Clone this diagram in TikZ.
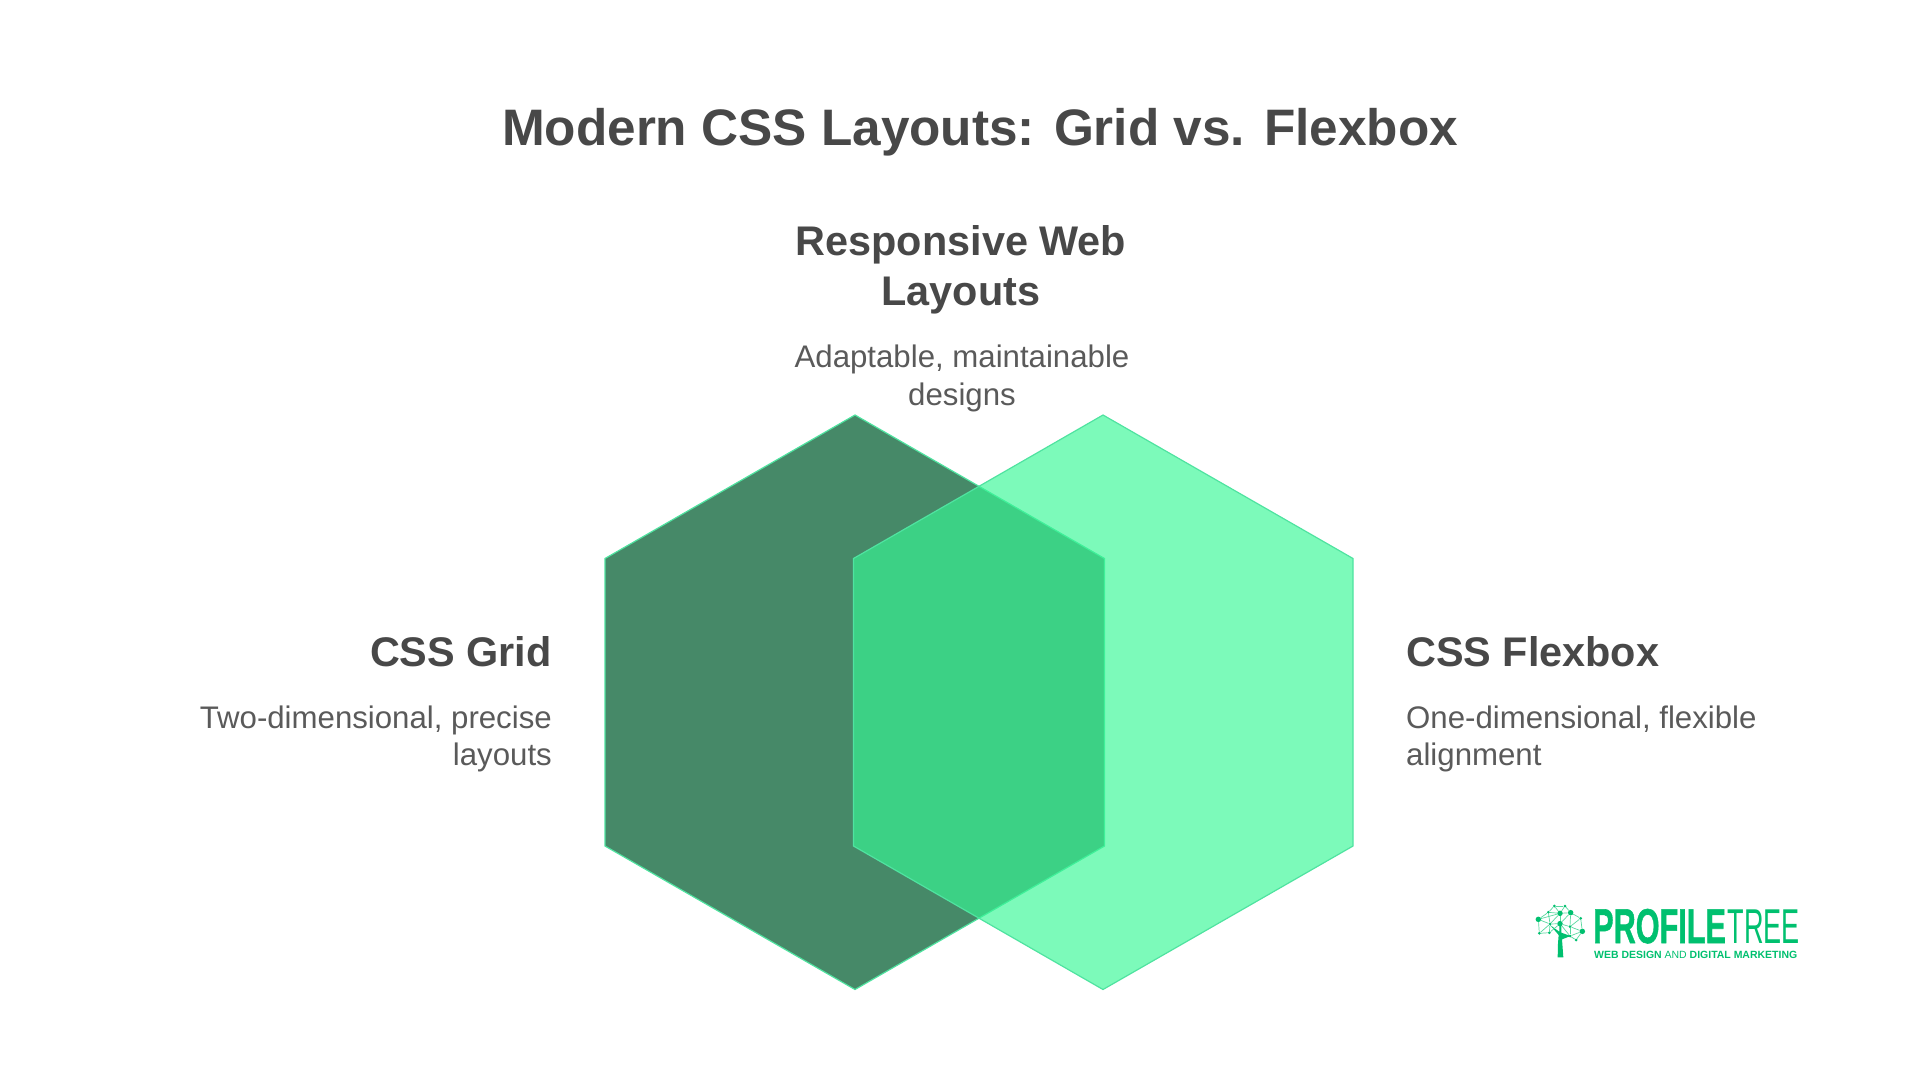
\documentclass[tikz,border=0pt]{standalone}
\usepackage{fontspec}
\setmainfont{Liberation Sans}
\newfontfamily\logoblack[FakeBold=1.2]{Liberation Sans Bold}
\definecolor{txtdark}{HTML}{484848}
\definecolor{txtbody}{HTML}{5A5A5A}
\definecolor{hexedge}{HTML}{4FE3A0}
\definecolor{hexdarkfill}{RGB}{70,137,104}
\definecolor{hexlightfill}{RGB}{55,248,150}
\definecolor{logogreen}{HTML}{00C06F}
\definecolor{logomesh}{HTML}{5AD9A0}
\tikzset{
  hexdark/.style={draw=hexedge,line width=1.2pt,fill=hexdarkfill},
  hexlight/.style={draw=hexedge,line width=1.2pt,fill=hexlightfill,fill opacity=.65},
  titletext/.style={font=\bfseries\fontsize{51.3}{60}\selectfont,text=txtdark,inner sep=0pt},
  headtext/.style={font=\bfseries\fontsize{41.4}{50}\selectfont,text=txtdark,inner sep=0pt,align=center},
  bodytext/.style={font=\fontsize{31.2}{38}\selectfont,text=txtbody,inner sep=0pt},
  lognode/.style={circle,fill=logogreen,inner sep=0pt,minimum size=3pt},
  logbig/.style={circle,fill=logogreen,inner sep=0pt,minimum size=5.5pt},
  logtext/.style={inner sep=0pt,text=logogreen},
  meshline/.style={draw=logomesh,line width=.7pt},
}
\begin{document}
\begin{tikzpicture}[x=1pt,y=-1pt]
\useasboundingbox (0,0) rectangle (1920,1080);
\fill[white] (0,0) rectangle (1920,1080);
\draw[hexdark] (855,415)--(1104.5,558.5)--(1104.5,846)--(855,989.5)--(605,846)--(605,558.5)--cycle;
\draw[hexlight] (1103,415)--(1353,558.5)--(1353,846)--(1103,989.5)--(853.5,846)--(853.5,558.5)--cycle;
\node[titletext,anchor=base] (title) at (980,145) {Modern CSS Layouts: Grid vs. Flexbox};
\node[headtext,anchor=base] (rw1) at (961,255.7) {Responsive Web};
\node[headtext,anchor=base] (rw2) at (961,305) {Layouts};
\node[bodytext,anchor=base] (rb1) at (962,367.7) {Adaptable, maintainable};
\node[bodytext,anchor=base] (rb2) at (962,405.5) {designs};
\node[headtext,anchor=base east] (g1) at (552,666) {CSS Grid};
\node[bodytext,anchor=base east] (gb1) at (552,728) {Two-dimensional, precise};
\node[bodytext,anchor=base east] (gb2) at (552,765.5) {layouts};
\node[headtext,anchor=base west] (f1) at (1406,666) {CSS Flexbox};
\node[bodytext,anchor=base west] (fb1) at (1406,728) {One-dimensional, flexible};
\node[bodytext,anchor=base west] (fb2) at (1406,765.5) {alignment};
% logo
\begin{scope}[shift={(1500,880)},x=.3333pt,y=-.3333pt]
\fill[logogreen] (173,232)--(174,190)--(176,165)--(150,135)--(178,155)--(178,131)--(184,131)--(184,158)--(212,168)--(186,178)--(190,232)--cycle;
\foreach \nm/\px/\py in {a/145/97,b/163/78,c/195/78,d/242/115,e/150/132,f/118/160,g/148/158,h/210/140,i/228/180,j/210/168}
  \node[lognode] (\nm) at (\px,\py) {};
\foreach \nm/\px/\py in {A/115/118,B/180/100,C/212/98,D/180/131,E/247/154}
  \node[logbig] (\nm) at (\px,\py) {};
\foreach \u/\v in {A/a,a/b,b/c,c/C,C/d,d/E,E/i,i/j,A/e,A/f,f/e,f/g,e/g,a/e,a/B,b/B,c/B,B/C,B/D,C/D,B/e,e/D,C/h,d/h,h/D,h/E,h/j,j/E,j/D,g/D,A/B}
  \draw[meshline] (\u) -- (\v);
\end{scope}
\node[logtext,anchor=base west] (ptb) at (1593,943) {\scalebox{.645}[1.03]{\logoblack\fontsize{47.5}{48}\selectfont PROFILE}};
\node[logtext,anchor=base west] (ptr) at (1727.5,943) {\scalebox{.57}[1.03]{\fontsize{47.5}{48}\selectfont TREE}};
\node[logtext,anchor=base west] (pts) at (1594,958.5) {\resizebox{203pt}{!}{\fontsize{10.5}{12}\selectfont\bfseries WEB DESIGN \mdseries AND \bfseries DIGITAL MARKETING}};
\end{tikzpicture}
\end{document}
